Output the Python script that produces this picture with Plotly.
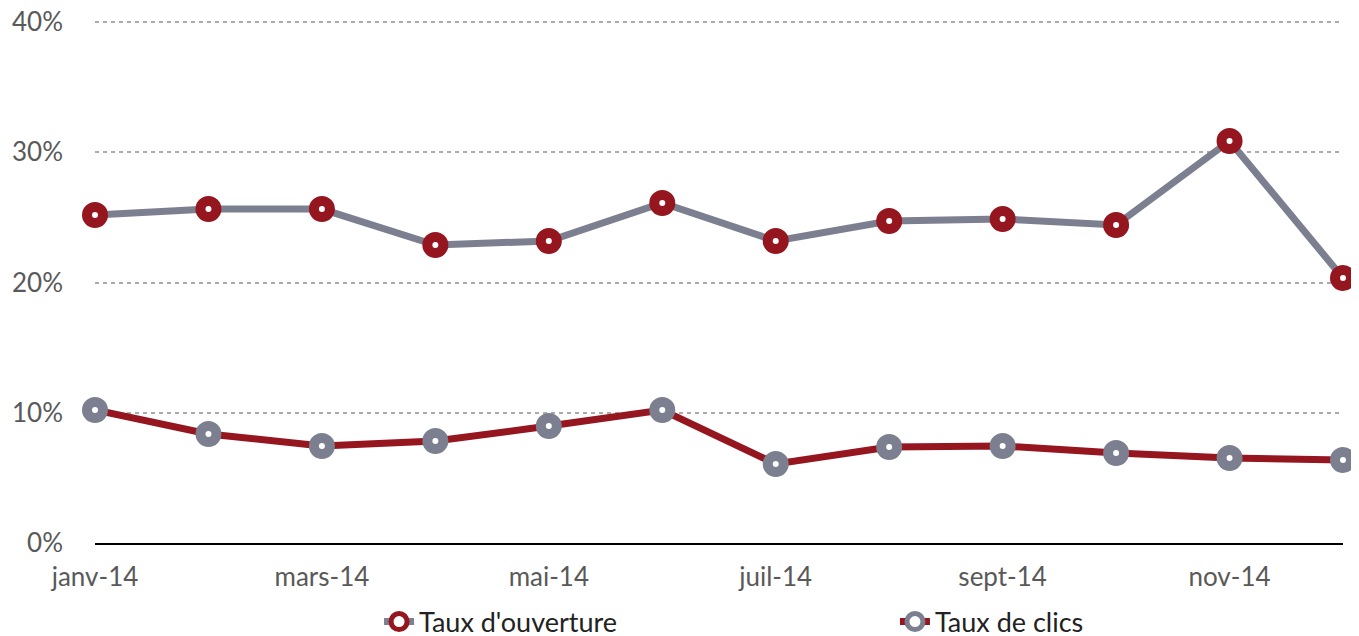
import plotly.graph_objects as go

months = ["janv-14", "févr-14", "mars-14", "avr-14", "mai-14", "juin-14",
          "juil-14", "août-14", "sept-14", "oct-14", "nov-14", "déc-14"]
tick_months = ["janv-14", "mars-14", "mai-14", "juil-14", "sept-14", "nov-14"]
taux_ouverture = [0.2518, 0.2564, 0.2564, 0.2288, 0.2319, 0.2610,
                  0.2319, 0.2472, 0.2488, 0.2441, 0.3086, 0.2035]
taux_clics = [0.1021, 0.0837, 0.0745, 0.0783, 0.0898, 0.1021,
              0.0607, 0.0737, 0.0745, 0.0691, 0.0653, 0.0637]
y_ticks = [0, 0.1, 0.2, 0.3, 0.4]

RED = "#95161E"
GRAY = "#7B7F8F"
FONT = "Lato"

fig = go.Figure()
fig.add_trace(go.Scatter(
    x=months, y=taux_ouverture, name="Taux d'ouverture", mode="lines+markers",
    line=dict(color=GRAY, width=7),
    marker=dict(size=16, color="white", line=dict(color=RED, width=10)),
    cliponaxis=False, legend="legend",
))
fig.add_trace(go.Scatter(
    x=months, y=taux_clics, name="Taux de clics", mode="lines+markers",
    line=dict(color=RED, width=7),
    marker=dict(size=16, color="white", line=dict(color=GRAY, width=10)),
    cliponaxis=False, legend="legend2",
))

legend_common = dict(orientation="h", xanchor="left", yanchor="middle", y=-0.151,
                     font=dict(family=FONT, size=27, color="#222222"),
                     bgcolor="rgba(0,0,0,0)", borderwidth=0)

fig.update_layout(
    width=1359, height=636,
    margin=dict(l=87, r=24, t=12, b=101, autoexpand=False),
    plot_bgcolor="white", paper_bgcolor="white",
    font=dict(family=FONT, size=26, color="#595959"),
    showlegend=True,
    legend=dict(x=0.2276, **legend_common),
    legend2=dict(x=0.641, **legend_common),
    xaxis=dict(type="category", range=[0, len(months) - 1],
               tickvals=tick_months, ticktext=tick_months,
               showgrid=False, showline=True, linecolor="black", linewidth=2,
               ticks="", ticklabelstandoff=10, zeroline=False,
               ticklabeloverflow="allow"),
    yaxis=dict(range=[0, 0.40154], tickvals=y_ticks, tickformat=".0%",
               showgrid=True, gridcolor="#ABABAB", gridwidth=2, griddash="4px,4px",
               zeroline=False, showline=False, ticks="", ticklabelstandoff=31,
               ticklabeloverflow="allow"),
)

fig.write_html("out.html")
